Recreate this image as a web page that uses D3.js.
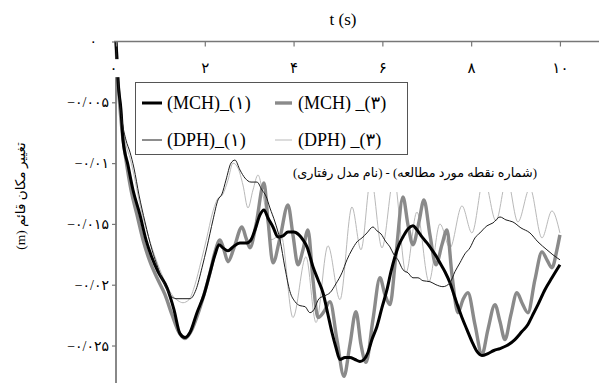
<!DOCTYPE html>
<html>
<head>
<meta charset="utf-8">
<script src="https://cdn.jsdelivr.net/npm/d3@7"></script>
<style>
  html, body { margin: 0; padding: 0; background: #fff; }
  svg { display: block; }
  text { font-family: "Liberation Serif", "DejaVu Sans", serif; fill: #000; }
</style>
</head>
<body>
<svg id="chart" width="599" height="383"></svg>
<script>
// Vertical displacement (m) against time (s), as [t, value] pairs.
const mch1 = [[0,0],[0.023,-0.00156],[0.045,-0.0032],[0.113,-0.00566],[0.158,-0.00811],[0.27,-0.01016],[0.383,-0.01221],[0.54,-0.01426],[0.676,-0.01631],[0.811,-0.01779],[0.946,-0.01893],[1.149,-0.02025],[1.306,-0.02205],[1.441,-0.02402],[1.554,-0.02434],[1.667,-0.02393],[1.824,-0.0223],[1.982,-0.02082],[2.117,-0.01902],[2.23,-0.01754],[2.32,-0.01672],[2.41,-0.01697],[2.523,-0.01721],[2.635,-0.01689],[2.793,-0.01656],[2.95,-0.01656],[3.041,-0.01631],[3.131,-0.01549],[3.243,-0.01426],[3.333,-0.01385],[3.423,-0.01451],[3.536,-0.01525],[3.649,-0.01607],[3.761,-0.01598],[3.874,-0.01566],[4.009,-0.01566],[4.122,-0.0159],[4.212,-0.01631],[4.302,-0.01689],[4.437,-0.01852],[4.55,-0.01959],[4.662,-0.02066],[4.775,-0.02246],[4.865,-0.02393],[4.955,-0.02516],[5.045,-0.02615],[5.158,-0.02598],[5.27,-0.02598],[5.383,-0.02615],[5.495,-0.02631],[5.586,-0.02615],[5.676,-0.02557],[5.766,-0.02451],[5.878,-0.02344],[5.991,-0.02189],[6.104,-0.02041],[6.194,-0.01893],[6.284,-0.0177],[6.374,-0.01672],[6.464,-0.01607],[6.577,-0.01541],[6.689,-0.01516],[6.779,-0.01549],[6.892,-0.01607],[7.005,-0.01656],[7.117,-0.01713],[7.207,-0.01762],[7.297,-0.0182],[7.41,-0.01893],[7.523,-0.01984],[7.613,-0.02082],[7.703,-0.0218],[7.793,-0.0227],[7.905,-0.02369],[8.018,-0.02467],[8.131,-0.02549],[8.243,-0.02582],[8.378,-0.02566],[8.514,-0.02541],[8.649,-0.02525],[8.806,-0.025],[8.986,-0.02451],[9.144,-0.02385],[9.279,-0.02328],[9.369,-0.02262],[9.505,-0.02164],[9.662,-0.02041],[9.82,-0.01943],[10,-0.01836]];

const mch3 = [[0,0],[0.023,-0.00197],[0.068,-0.00443],[0.135,-0.0073],[0.225,-0.00975],[0.338,-0.01221],[0.473,-0.01426],[0.608,-0.01631],[0.766,-0.01811],[0.923,-0.01943],[1.104,-0.02082],[1.261,-0.02246],[1.419,-0.02393],[1.554,-0.02443],[1.689,-0.02385],[1.824,-0.02262],[1.982,-0.02082],[2.117,-0.01902],[2.23,-0.0173],[2.342,-0.01631],[2.432,-0.01713],[2.523,-0.01811],[2.658,-0.01697],[2.838,-0.01525],[2.928,-0.01615],[3.018,-0.01697],[3.153,-0.01508],[3.333,-0.01164],[3.423,-0.01467],[3.536,-0.0182],[3.694,-0.01615],[3.874,-0.01344],[3.986,-0.0159],[4.099,-0.01836],[4.212,-0.01713],[4.324,-0.01549],[4.437,-0.01959],[4.55,-0.0227],[4.685,-0.02221],[4.82,-0.02139],[4.977,-0.02451],[5.135,-0.02754],[5.27,-0.02492],[5.405,-0.02221],[5.518,-0.02492],[5.631,-0.02639],[5.788,-0.02287],[5.946,-0.01943],[6.059,-0.02082],[6.171,-0.02164],[6.306,-0.01754],[6.464,-0.01279],[6.577,-0.01508],[6.689,-0.01672],[6.824,-0.01484],[6.937,-0.01303],[7.072,-0.0159],[7.207,-0.01836],[7.342,-0.01672],[7.455,-0.01549],[7.568,-0.01918],[7.703,-0.0223],[7.815,-0.02123],[7.928,-0.02066],[8.086,-0.02328],[8.243,-0.02574],[8.378,-0.02369],[8.536,-0.02164],[8.649,-0.02303],[8.761,-0.02451],[8.896,-0.02246],[9.032,-0.02066],[9.144,-0.02148],[9.279,-0.0223],[9.437,-0.01959],[9.595,-0.0173],[9.707,-0.01795],[9.82,-0.01861],[9.932,-0.01713],[10,-0.0159]];

const dph1 = [[0,0],[0.023,-0.00172],[0.068,-0.00418],[0.135,-0.00648],[0.225,-0.00811],[0.315,-0.0091],[0.405,-0.01041],[0.518,-0.01262],[0.653,-0.01484],[0.811,-0.01713],[0.946,-0.01861],[1.081,-0.01992],[1.216,-0.02082],[1.351,-0.02115],[1.509,-0.02115],[1.667,-0.02115],[1.802,-0.02041],[1.937,-0.01861],[2.05,-0.01689],[2.185,-0.01467],[2.297,-0.01303],[2.387,-0.01254],[2.477,-0.0114],[2.59,-0.01],[2.68,-0.00975],[2.793,-0.01057],[2.905,-0.01123],[3.041,-0.01156],[3.176,-0.01156],[3.288,-0.01221],[3.378,-0.01271],[3.468,-0.01369],[3.581,-0.01484],[3.694,-0.01631],[3.806,-0.01861],[3.919,-0.02057],[4.032,-0.02139],[4.144,-0.02172],[4.257,-0.0218],[4.369,-0.0223],[4.459,-0.02205],[4.572,-0.02115],[4.707,-0.0209],[4.82,-0.02066],[4.955,-0.01992],[5.09,-0.01902],[5.203,-0.01795],[5.315,-0.01713],[5.428,-0.01648],[5.541,-0.01615],[5.653,-0.01574],[5.788,-0.01525],[5.878,-0.01557],[5.968,-0.01582],[6.081,-0.01648],[6.171,-0.01689],[6.261,-0.01754],[6.351,-0.01795],[6.464,-0.01877],[6.577,-0.01902],[6.689,-0.01943],[6.802,-0.01943],[6.914,-0.01967],[7.072,-0.01975],[7.207,-0.02],[7.365,-0.02016],[7.523,-0.01984],[7.635,-0.01893],[7.748,-0.0182],[7.86,-0.01746],[7.973,-0.01697],[8.086,-0.01615],[8.198,-0.01574],[8.356,-0.01516],[8.491,-0.01492],[8.649,-0.01443],[8.784,-0.01467],[8.941,-0.01484],[9.122,-0.01533],[9.324,-0.01574],[9.505,-0.01648],[9.707,-0.01713],[9.842,-0.01754],[10,-0.01795]];

const dph3 = [[0,0],[0.023,-0.00197],[0.068,-0.00443],[0.135,-0.00689],[0.225,-0.00852],[0.315,-0.00959],[0.405,-0.01098],[0.518,-0.01303],[0.653,-0.01508],[0.811,-0.01697],[0.946,-0.01836],[1.104,-0.01975],[1.261,-0.02082],[1.396,-0.02131],[1.509,-0.02148],[1.644,-0.02123],[1.779,-0.02],[1.914,-0.01811],[2.05,-0.01607],[2.162,-0.01426],[2.275,-0.01303],[2.41,-0.01254],[2.523,-0.0114],[2.635,-0.01],[2.748,-0.01041],[2.86,-0.0118],[2.973,-0.01369],[3.086,-0.01221],[3.198,-0.01098],[3.333,-0.01303],[3.491,-0.01631],[3.716,-0.0159],[3.986,-0.0227],[4.279,-0.0177],[4.505,-0.02311],[4.775,-0.0168],[5.045,-0.02123],[5.315,-0.01361],[5.518,-0.01713],[5.743,-0.01123],[5.991,-0.01697],[6.261,-0.01123],[6.532,-0.01902],[6.779,-0.01402],[7.05,-0.01975],[7.297,-0.015],[7.523,-0.01697],[7.793,-0.01352],[8.018,-0.01574],[8.288,-0.01123],[8.559,-0.01475],[8.806,-0.01123],[9.054,-0.01484],[9.324,-0.01205],[9.595,-0.01615],[9.82,-0.01393],[10,-0.01574]];

const seriesNames = ["(MCH)_(۱)", "(MCH) _(۳)", "(DPH)_(۱)", "(DPH) _(۳)"];
const xTicks = [0, 2, 4, 6, 8, 10];
const xTickLabels = ["۰", "۲", "۴", "۶", "۸", "۱۰"];
const yTicks = [0, -0.005, -0.01, -0.015, -0.02, -0.025];
const yTickLabels = ["۰", "−۰/۰۰۵", "−۰/۰۱", "−۰/۰۱۵", "−۰/۰۲", "−۰/۰۲۵"];
const xTitle = "t (s)";
const yTitle = "تغییر مکان قائم (m)";
const noteText = "(شماره نقطه مورد مطالعه) - (نام مدل رفتاری)";

const svg = d3.select("#chart");

// time axis runs across the top, out to the right edge
const x = d3.scaleLinear().domain([0, 10.88]).range([116, 599]);
const y = d3.scaleLinear().domain([-0.028, 0]).range([382, 41.5]);

const series = [
  { data: dph3, color: "#b9b9b9", width: 1 },
  { data: mch3, color: "#8a8a8a", width: 3.4 },
  { data: mch1, color: "#000000", width: 3 },
  { data: dph1, color: "#1c1c1c", width: 1 }
];
const legendStyle = [
  { color: "#000000", width: 3 },
  { color: "#8a8a8a", width: 3.4 },
  { color: "#1c1c1c", width: 1 },
  { color: "#b9b9b9", width: 1 }
];

// axes
const xAxis = d3.axisBottom(x).tickValues(xTicks)
  .tickFormat((d, i) => xTickLabels[i]).tickSize(5).tickSizeOuter(0).tickPadding(16);
const gx = svg.append("g").attr("transform", `translate(0,${y(0)})`).call(xAxis);
gx.select(".domain").attr("stroke", "#777").attr("stroke-width", 1.4)
  .attr("d", `M114,0H599`);
gx.selectAll(".tick line").attr("stroke", "#777").attr("stroke-width", 1.2);
gx.selectAll(".tick text").attr("font-size", 15).attr("font-family", "'DejaVu Sans'")
  .attr("dx", d => d === 0 ? -3 : 0);

const yAxis = d3.axisLeft(y).tickValues(yTicks)
  .tickFormat((d, i) => yTickLabels[i]).tickSize(4).tickSizeOuter(0).tickPadding(3);
const gy = svg.append("g").attr("transform", `translate(${x(0)},0)`).call(yAxis);
gy.select(".domain").attr("stroke", "#888").attr("stroke-width", 2)
  .attr("d", `M0,${y(0)}V383`);
gy.selectAll(".tick line").attr("stroke", "#777").attr("stroke-width", 1.2);
gy.selectAll(".tick text").attr("font-size", 14).attr("font-family", "'DejaVu Sans'")
  .attr("dx", d => d === 0 ? -12 : 0);

// curves
const line = d3.line().x(d => x(d[0])).y(d => y(d[1])).curve(d3.curveMonotoneX);
svg.append("g").selectAll("path").data(series).join("path")
  .attr("d", s => line(s.data))
  .attr("fill", "none")
  .attr("stroke", s => s.color)
  .attr("stroke-width", s => s.width)
  .attr("stroke-linejoin", "round");

// white boxes behind the time tick labels sit above the curves
gx.raise();
gx.selectAll(".tick").each(function () {
  const t = d3.select(this).select("text");
  const b = t.node().getBBox();
  d3.select(this).insert("rect", "text")
    .attr("x", b.x - 7).attr("y", b.y - 1)
    .attr("width", b.width + 14).attr("height", b.height + 2)
    .attr("fill", "#fff");
});

// axis titles
svg.append("text").attr("x", 343).attr("y", 25).attr("text-anchor", "middle")
  .attr("font-size", 17).text(xTitle);
svg.append("text")
  .attr("transform", "translate(25,196) rotate(-90)")
  .attr("text-anchor", "middle").attr("direction", "rtl")
  .attr("font-size", 13.5).text(yTitle);

// legend
const lg = svg.append("g");
lg.append("rect").attr("x", 135.5).attr("y", 82.5).attr("width", 272).attr("height", 72)
  .attr("fill", "#fff").attr("stroke", "#555").attr("stroke-width", 1);
const cols = [142, 275], rows = [103, 140];
seriesNames.forEach((name, i) => {
  const cx = cols[i % 2], cy = rows[Math.floor(i / 2)];
  lg.append("line").attr("x1", cx).attr("x2", cx + (i % 2 ? 17 : 20))
    .attr("y1", cy).attr("y2", cy)
    .attr("stroke", legendStyle[i].color).attr("stroke-width", legendStyle[i].width);
  lg.append("text").attr("x", cx + (i % 2 ? 23 : 25)).attr("y", cy + 6)
    .attr("font-size", 18).text(name);
});

// note naming convention for the legend entries
const note = svg.append("g");
note.append("rect").attr("x", 290).attr("y", 156).attr("width", 247).attr("height", 36)
  .attr("fill", "#fff");
note.append("text").attr("x", 415).attr("y", 177).attr("text-anchor", "middle")
  .attr("direction", "rtl").attr("font-size", 12.8).attr("font-family", "'DejaVu Sans'")
  .text(noteText);
</script>
</body>
</html>
